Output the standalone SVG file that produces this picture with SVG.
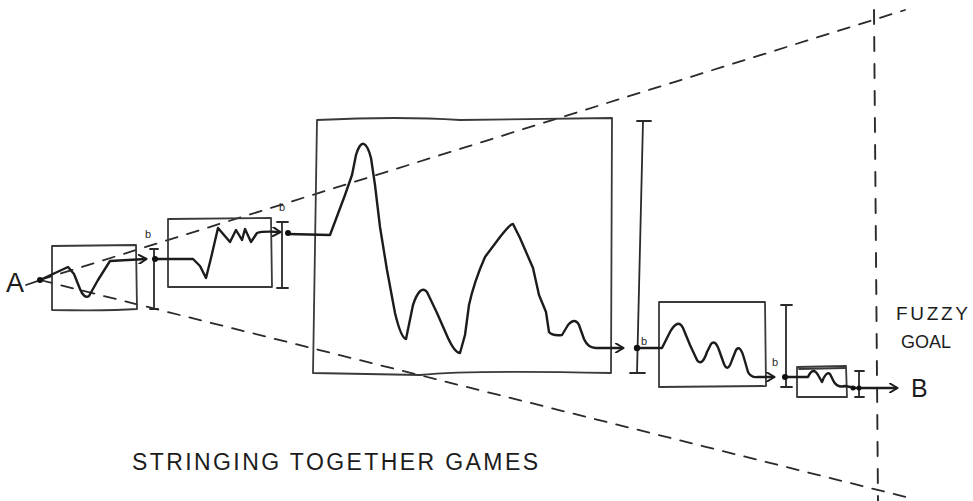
<svg xmlns="http://www.w3.org/2000/svg" width="973" height="501" viewBox="0 0 973 501">
<style>
.bg{fill:#fff}
.box{fill:none;stroke:#3a3a3a;stroke-width:1.8;stroke-linejoin:round;stroke-linecap:round}
.curve{fill:none;stroke:#1c1c1c;stroke-width:2.4;stroke-linejoin:round;stroke-linecap:round}
.dash{fill:none;stroke:#2a2a2a;stroke-width:1.8;stroke-dasharray:12 10;stroke-linecap:round}
.vdash{fill:none;stroke:#2a2a2a;stroke-width:1.9;stroke-dasharray:14 13;stroke-linecap:round}
.ibeam{fill:none;stroke:#2a2a2a;stroke-width:1.8;stroke-linecap:round}
.dot{fill:#111}
.hand{font-family:"Liberation Sans","DejaVu Sans",sans-serif;fill:#1c1c1c}
.small{font-family:"Liberation Sans","DejaVu Sans",sans-serif;fill:#2a2a2a;font-size:11px}
</style>
<defs>
<marker id="arr" viewBox="0 0 10 10" refX="8" refY="5" markerWidth="10" markerHeight="10" markerUnits="userSpaceOnUse" orient="auto">
<path d="M1,0.5 L8.5,5 L1,9.5" fill="none" stroke="#1c1c1c" stroke-width="2" stroke-linecap="round" stroke-linejoin="round"/>
</marker>
</defs>
<rect class="bg" x="0" y="0" width="973" height="501"/>

<g id="perspective">
<path class="dash" d="M26,285 L38,281"/>
<path class="dash" d="M40,280 L905,10"/>
<path class="dash" d="M40,280 L910,498"/>
<path class="vdash" d="M874,10 L878,501"/>
</g>

<g id="game1">
<path class="box" d="M52,246 L136,245 L137,309 Q110,311 52,310 Z"/>
<path class="curve" d="M40,280 L68,267 L74,274 L80,289 Q84,299 89,296 L98,280 L110,261 L146,259" marker-end="url(#arr)"/>
</g>

<g id="game2">
<path class="box" d="M168,219 L271,218 L272,287 L168,287 Z"/>
<path class="curve" d="M155,259 L193,259 L200,266 L206,278 L211,258 L218,228 L230,242 L236,230 L242,240 L245,229 L251,242 L257,233 Q262,231 280,232" marker-end="url(#arr)"/>
</g>

<g id="game3">
<path class="box" d="M317,120 Q400,116 460,120 L612,118 L611,373 Q470,370 420,375 L313,373 Z"/>
<path class="curve" d="M288,234 L330,235 L345,195 L352,175 L356,155 Q360,142 364,144 Q368,146 371,158 L375,185 L380,227 L387,270 L395,313 Q401,338 406,339 L413,305 Q420,284 427,292 L437,313 L448,338 Q455,353 460,353 L465,335 L469,305 Q474,282 485,257 L500,237 Q510,224 513,224 L520,238 L533,268 L539,295 L546,312 L549,332 Q552,336 562,335 L568,325 Q575,317 579,325 L584,339 Q588,348 596,348 L623,348" marker-end="url(#arr)"/>
</g>

<g id="game4">
<path class="box" d="M659,302 L765,302 L766,386 L659,387 Z"/>
<path class="curve" d="M637,348 L662,348 L670,332 Q678,318 683,328 L690,345 L697,360 Q702,367 707,352 L711,344 Q715,339 719,350 L724,364 Q728,373 732,360 L736,350 Q740,344 744,358 L748,372 Q751,378 758,377 L774,377" marker-end="url(#arr)"/>
</g>

<g id="game5">
<path class="box" d="M797,367 L846,366 L847,397 L797,397 Z"/>
<path class="box" d="M799,369 L845,368" stroke-width="1.2"/>
<path class="curve" d="M785,377 L808,377 Q813,366 818,375 L822,382 Q826,371 830,374 L834,382 Q838,388 845,386 L856,388" stroke-width="2"/>
</g>

<g id="connectors">
<path class="ibeam" d="M154,249 L154,309 M150,249 L158,249 M150,309 L158,309"/>
<path class="ibeam" d="M282,222 L282,288 M277,222 L288,222 M277,288 L288,288"/>
<path class="ibeam" d="M643,121 L637,373 M637,121 L651,121 M630,373 L645,373"/>
<path class="ibeam" d="M786,305 L786,387 M781,305 L792,305 M781,387 L792,387"/>
<path class="ibeam" d="M859,371 L859,397 M855,371 L864,371 M855,397 L864,397"/>
<path class="curve" d="M858,388 L897,388" stroke-width="2" marker-end="url(#arr)"/>
<circle class="dot" cx="40" cy="280" r="3"/>
<circle class="dot" cx="155" cy="259" r="3"/>
<circle class="dot" cx="288" cy="233" r="3"/>
<circle class="dot" cx="637" cy="348" r="3.2"/>
<circle class="dot" cx="785" cy="377" r="3"/>
<circle class="dot" cx="853" cy="388" r="2.5"/>
<circle class="dot" cx="859" cy="388" r="2.5"/>
</g>

<g id="labels">
<text class="hand" x="6" y="292" font-size="27">A</text>
<text class="hand" x="911" y="397" font-size="25">B</text>
<text class="small" x="145" y="238">b</text>
<text class="small" x="279" y="211">b</text>
<text class="small" x="641" y="345">b</text>
<text class="small" x="772" y="366" font-size="9">b</text>
<text class="hand" x="896" y="320" font-size="19" textLength="72" lengthAdjust="spacing">FUZZY</text>
<text class="hand" x="901" y="348" font-size="18" textLength="50" lengthAdjust="spacing">GOAL</text>
<text class="hand" x="132" y="470" font-size="23" textLength="406" lengthAdjust="spacing">STRINGING TOGETHER GAMES</text>
</g>
</svg>
